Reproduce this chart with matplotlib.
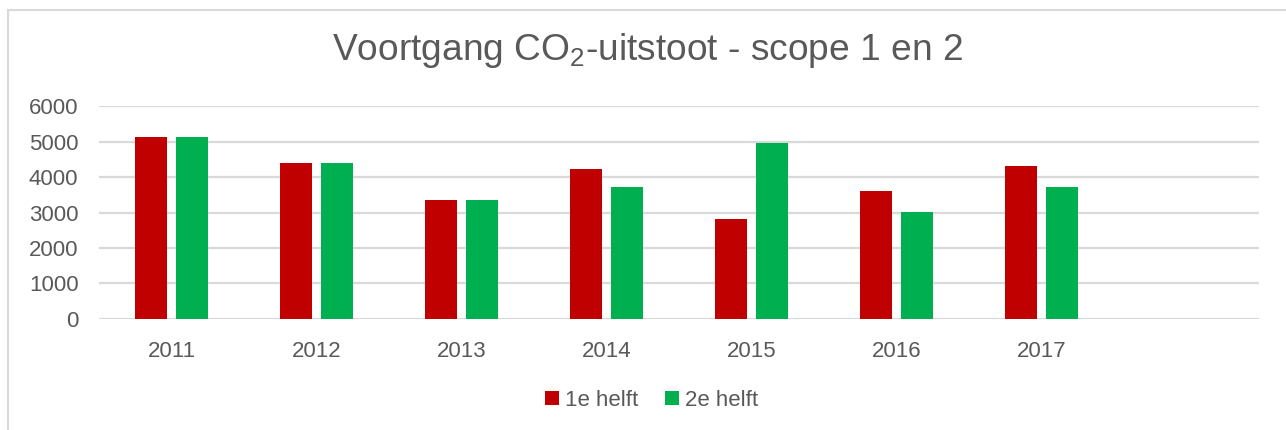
import numpy as np
import matplotlib.pyplot as plt
from matplotlib.patches import Rectangle

plt.rcParams['font.family'] = ['Liberation Sans', 'DejaVu Sans']
plt.rcParams['mathtext.fontset'] = 'custom'
plt.rcParams['mathtext.rm'] = 'Liberation Sans'
plt.rcParams['mathtext.default'] = 'regular'

years = ['2011', '2012', '2013', '2014', '2015', '2016', '2017']
eerste_helft = [5125, 4390, 3345, 4240, 2815, 3605, 4305]
tweede_helft = [5125, 4390, 3345, 3730, 4965, 3005, 3710]

grey = '#595959'
fig = plt.figure(figsize=(12.86, 4.30), dpi=100)
ax = fig.add_axes([0.0772, 0.2588, 0.9018, 0.494])

x = np.arange(len(years))
w = 0.222
ax.bar(x - 0.142, eerste_helft, w, color='#C00000', label='1e helft', zorder=3)
ax.bar(x + 0.142, tweede_helft, w, color='#00B050', label='2e helft', zorder=3)

ax.set_xlim(-0.5, 7.5)
ax.set_ylim(0, 6000)
ax.set_yticks(range(0, 6001, 1000))
ax.set_xticks(x)
ax.set_xticklabels(years)
ax.tick_params(length=0, labelsize=16, labelcolor=grey)
ax.tick_params(axis='x', pad=16)
ax.tick_params(axis='y', pad=15)
ax.grid(axis='y', color='#d9d9d9', linewidth=1.6, zorder=0)
for s in ax.spines.values():
    s.set_visible(False)

fig.text(0.5034, 1 - 50 / 430, 'Voortgang CO$_2$-uitstoot - scope 1 en 2',
         ha='center', va='center', fontsize=26.7, color=grey)

fig.legend(loc='center', bbox_to_anchor=(652 / 1286, 1 - 400 / 430), ncol=2,
           frameon=False, fontsize=16, labelcolor=grey, handlelength=0.6,
           handleheight=0.6, handletextpad=0.3, columnspacing=1.2)

fig.patches.append(Rectangle((8 / 1286, -0.1), 1.1, 1 - 10 / 430 + 0.1,
                             transform=fig.transFigure, fill=False,
                             edgecolor='#d9d9d9', linewidth=1.5))

fig.savefig('out.png', dpi=100)
